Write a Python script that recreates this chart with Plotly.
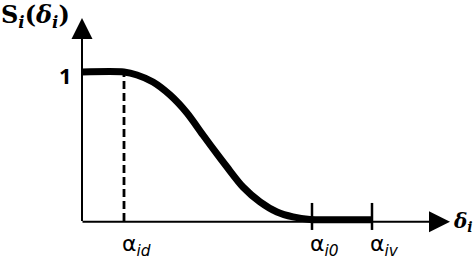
import plotly.graph_objects as go

# ---- data ----
# x in arbitrary units (origin at the vertical axis), y = S_i(delta_i)
curve_x = [0.0, 4.2, 5.5, 7.1, 8.8, 10.5, 12.1, 13.8, 14.5, 16.1, 17.8, 19.5, 21.1, 22.8, 24.8, 27.0, 29.0]
curve_y = [1.0, 1.0, 0.98, 0.933, 0.846, 0.725, 0.577, 0.423, 0.362, 0.228, 0.128, 0.060, 0.027, 0.010, 0.008, 0.008, 0.008]

alpha_id = 4.2
tick_x = [23.0, 29.0]
tick_labels = ["α<sub><i>id</i></sub>", "α<sub><i>i0</i></sub>", "α<sub><i>iv</i></sub>"]
label_x = [alpha_id] + tick_x
y_one = 1.0
x_axis_end = 36.8
y_axis_end = 1.362

fig = go.Figure()

fig.add_trace(go.Scatter(
    x=curve_x, y=curve_y, mode="lines",
    line=dict(color="black", width=7, shape="spline", smoothing=0.8),
    hoverinfo="skip", showlegend=False,
))

shapes = []
# dashed vertical at alpha_id
shapes.append(dict(type="line", xref="x", yref="y", x0=alpha_id, x1=alpha_id, y0=0, y1=y_one,
                   line=dict(color="black", width=2.8, dash="8px,4px")))
# tick marks on x axis
for tx in tick_x:
    shapes.append(dict(type="line", xref="x", yref="y", ysizemode="pixel", yanchor=0,
                       x0=tx, x1=tx, y0=-9, y1=18, line=dict(color="black", width=2.5)))

annotations = []
# axes with arrowheads
annotations.append(dict(x=0, y=y_axis_end, ax=0, ay=-0.01, xref="x", yref="y", axref="x", ayref="y",
                        text="", showarrow=True, arrowhead=2, arrowsize=2.1, arrowwidth=2,
                        arrowcolor="black", standoff=0, startstandoff=0))
annotations.append(dict(x=x_axis_end, y=-0.005, ax=-0.1, ay=-0.005, xref="x", yref="y", axref="x", ayref="y",
                        text="", showarrow=True, arrowhead=2, arrowsize=2.1, arrowwidth=2,
                        arrowcolor="black", standoff=0, startstandoff=0))
# x tick labels
for lx, lt in zip(label_x, tick_labels):
    annotations.append(dict(x=lx, y=0, xref="x", yref="y", text=lt, showarrow=False,
                            xanchor="left", yanchor="middle", xshift=-4, yshift=-25,
                            font=dict(family="DejaVu Sans", size=22, color="black")))
# "1" label
annotations.append(dict(x=0, y=y_one, xref="x", yref="y", text="<b>1</b>", showarrow=False,
                        xanchor="right", yanchor="middle", xshift=-8, yshift=-3,
                        font=dict(family="Open Sans", size=22, color="black")))
# axis titles
annotations.append(dict(x=x_axis_end, y=0, xref="x", yref="y",
                        text="<b><i>δ<sub>i</sub></i></b>", showarrow=False,
                        xanchor="left", yanchor="middle", xshift=1, yshift=-1,
                        font=dict(family="DejaVu Serif", size=20, color="black")))
annotations.append(dict(x=0, y=1, xref="paper", yref="paper",
                        text="<b>S<sub><i>i</i></sub>(<i>δ<sub>i</sub></i>)</b>", showarrow=False,
                        xanchor="left", yanchor="top", xshift=-1, yshift=2,
                        font=dict(family="DejaVu Serif", size=24, color="black")))

fig.update_layout(
    width=474, height=260,
    margin=dict(l=0, r=0, t=0, b=0),
    paper_bgcolor="white", plot_bgcolor="white",
    xaxis=dict(range=[-8.2, 39.2], visible=False, fixedrange=True),
    yaxis=dict(range=[-0.262, 1.483], visible=False, fixedrange=True),
    shapes=shapes, annotations=annotations,
    showlegend=False,
)

fig.write_html("out.html")
